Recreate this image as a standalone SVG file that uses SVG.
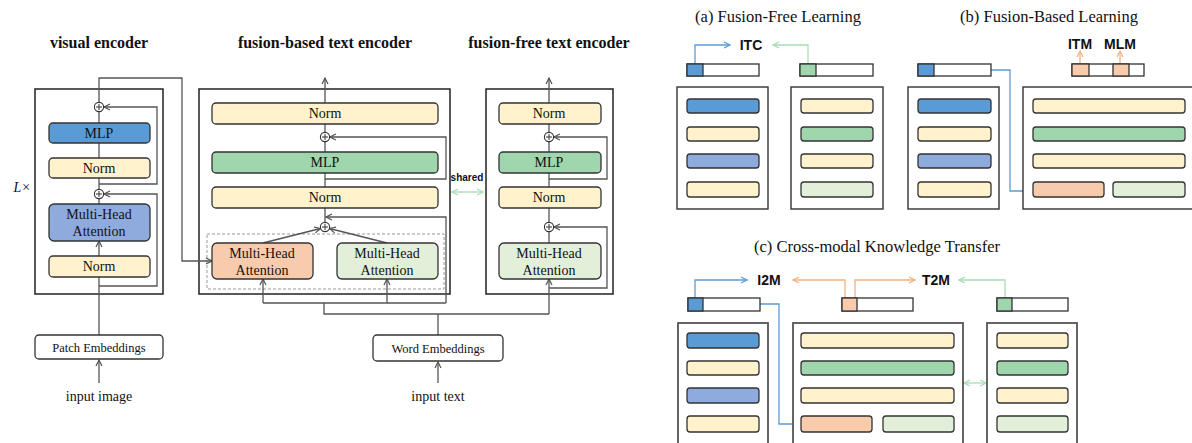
<svg xmlns="http://www.w3.org/2000/svg" width="1192" height="443" viewBox="0 0 1192 443">
<style>
.t{font-family:"Liberation Serif","Times New Roman",serif;fill:#111;text-anchor:middle}
.lb{font-size:14px}
.ti{font-size:16px;font-weight:bold}
.pt{font-size:16.5px}
.s{font-family:"Liberation Sans",Arial,sans-serif;font-weight:bold;fill:#111;text-anchor:middle}
.blk{stroke:#333;stroke-width:1.3}
.enc{fill:#fff;stroke:#222;stroke-width:1.5}
.pan{fill:#fff;stroke:#333;stroke-width:1.4}
.pan2{fill:#fff;stroke:#555;stroke-width:1.8}
.ln{stroke:#555;stroke-width:1.3;fill:none}
.bl{stroke:#5b9bd5;stroke-width:1.3;fill:none}
.gl{stroke:#a8dcb5;stroke-width:1.3;fill:none}
.ol{stroke:#f4b183;stroke-width:1.3;fill:none}
.y{fill:#fff2cc}.b{fill:#5b9bd5}.p{fill:#8faadc}.g{fill:#9fd6ad}.lg{fill:#e2f0d9}.o{fill:#f8cbad}.w{fill:#fff}
.pl{fill:#fff;stroke:#333;stroke-width:1.1}
</style>
<defs>
<marker id="ah" viewBox="0 0 8 8" refX="7" refY="4" markerWidth="8" markerHeight="8" markerUnits="userSpaceOnUse" orient="auto-start-reverse"><path d="M1,1 L7,4 L1,7" fill="none" stroke="#555" stroke-width="1.2"/></marker>
<marker id="ab" viewBox="0 0 8 8" refX="7" refY="4" markerWidth="8" markerHeight="8" markerUnits="userSpaceOnUse" orient="auto-start-reverse"><path d="M1,1 L7,4 L1,7" fill="none" stroke="#5b9bd5" stroke-width="1.2"/></marker>
<marker id="ag" viewBox="0 0 8 8" refX="7" refY="4" markerWidth="8" markerHeight="8" markerUnits="userSpaceOnUse" orient="auto-start-reverse"><path d="M1,1 L7,4 L1,7" fill="none" stroke="#a8dcb5" stroke-width="1.2"/></marker>
<marker id="ao" viewBox="0 0 8 8" refX="7" refY="4" markerWidth="8" markerHeight="8" markerUnits="userSpaceOnUse" orient="auto-start-reverse"><path d="M1,1 L7,4 L1,7" fill="none" stroke="#f4b183" stroke-width="1.2"/></marker>
<g id="plus"><circle r="4.6" class="pl"/><path d="M-3,0H3M0,-3V3" stroke="#333" stroke-width="1"/></g>
</defs>

<!-- Encoder containers -->
<g id="visual-encoder">
<text class="t ti" x="99" y="48">visual encoder</text>
<rect class="enc" x="35" y="89" width="128" height="205"/>
<text class="t lb" x="22" y="192" font-style="italic">L×</text>
</g>
<g id="fusion-based-encoder">
<text class="t ti" x="325" y="48">fusion-based text encoder</text>
<rect class="enc" x="199" y="89" width="251" height="205"/>
<rect x="207" y="234" width="237" height="55" fill="none" stroke="#999" stroke-width="1" stroke-dasharray="3,2"/>
</g>
<g id="fusion-free-encoder">
<text class="t ti" x="549" y="48">fusion-free text encoder</text>
<rect class="enc" x="486" y="89" width="127" height="205"/>
</g>

<!-- Connectors -->
<g id="connectors">
<path class="ln" d="M99,335V277"/>
<path class="ln" d="M99,256V241" marker-end="url(#ah)"/>
<path class="ln" d="M99,204V199"/>
<path class="ln" d="M99,189V178"/>
<path class="ln" d="M99,158V143"/>
<path class="ln" d="M99,123V112"/>
<path class="ln" d="M99,286H157V194H104" marker-end="url(#ah)"/>
<path class="ln" d="M99,184H157V107H104" marker-end="url(#ah)"/>
<path class="ln" d="M99,102V78H182V261H212" marker-end="url(#ah)"/>
<path class="ln" d="M99,383V360" marker-end="url(#ah)"/>
<path class="ln" d="M325,103V78" marker-end="url(#ah)"/>
<path class="ln" d="M325,124V132"/>
<path class="ln" d="M325,142V152"/>
<path class="ln" d="M325,173V187"/>
<path class="ln" d="M325,179H446V137H330" marker-end="url(#ah)"/>
<path class="ln" d="M325,208V222"/>
<path class="ln" d="M446,303V217H326" marker-end="url(#ah)"/>
<path class="ln" d="M263,243L320.5,228.5" marker-end="url(#ah)"/>
<path class="ln" d="M387,243L329.5,228.5" marker-end="url(#ah)"/>
<path class="ln" d="M263,303V279" marker-end="url(#ah)"/>
<path class="ln" d="M387,303V279" marker-end="url(#ah)"/>
<path class="ln" d="M263,303H446"/>
<path class="ln" d="M324,303V314H549"/>
<path class="ln" d="M438,314V335"/>
<path class="ln" d="M438,383V362" marker-end="url(#ah)"/>
<path class="ln" d="M549,314V279" marker-end="url(#ah)"/>
<path class="ln" d="M549,288H607V227H554" marker-end="url(#ah)"/>
<path class="ln" d="M549,243V232"/>
<path class="ln" d="M549,222V208"/>
<path class="ln" d="M549,187V173"/>
<path class="ln" d="M549,179H607V137H554" marker-end="url(#ah)"/>
<path class="ln" d="M549,152V142"/>
<path class="ln" d="M549,132V124"/>
<path class="ln" d="M549,103V78" marker-end="url(#ah)"/>
<path class="gl" d="M452,192H483" stroke-width="1.6" marker-start="url(#ag)" marker-end="url(#ag)"/>
<path class="bl" d="M695,64V45H730" marker-end="url(#ab)"/>
<path class="gl" d="M808,64V45H773" marker-end="url(#ag)"/>
<path class="bl" d="M991,70H1010V191H1030" marker-end="url(#ab)"/>
<path class="ol" d="M1080,64V51" marker-end="url(#ao)"/>
<path class="ol" d="M1120,64V51" marker-end="url(#ao)"/>
<path class="bl" d="M695,298V280H747" marker-end="url(#ab)"/>
<path class="bl" d="M760,304H779V424H800" marker-end="url(#ab)"/>
<path class="ol" d="M845,298V280H793" marker-end="url(#ao)"/>
<path class="ol" d="M855,298V280H915" marker-end="url(#ao)"/>
<path class="gl" d="M1005,298V280H959" marker-end="url(#ag)"/>
<path class="gl" d="M964,383H986" marker-start="url(#ag)" marker-end="url(#ag)"/>
</g>

<!-- Visual encoder nodes -->
<g id="ve-mlp"><rect class="blk b" x="49" y="123" width="101" height="20" rx="4"/><text class="t lb" x="99" y="138">MLP</text></g>
<g id="ve-norm2"><rect class="blk y" x="49" y="158" width="101" height="20" rx="4"/><text class="t lb" x="99" y="173">Norm</text></g>
<g id="ve-mha"><rect class="blk p" x="49" y="204" width="101" height="37" rx="5"/><text class="t lb" x="99" y="219">Multi-Head</text><text class="t lb" x="99" y="236">Attention</text></g>
<g id="ve-norm1"><rect class="blk y" x="49" y="256" width="101" height="21" rx="4"/><text class="t lb" x="99" y="271">Norm</text></g>
<g id="ve-plus1"><use href="#plus" x="99" y="107"/></g>
<g id="ve-plus2"><use href="#plus" x="99" y="194"/></g>
<g id="patch-emb"><rect x="35" y="335" width="128" height="24" rx="4" fill="#fff" stroke="#333" stroke-width="1.3"/><text class="t" font-size="12.5" x="99" y="352">Patch Embeddings</text></g>
<g id="input-image"><text class="t lb" x="99" y="401">input image</text></g>

<!-- Fusion-based nodes -->
<g id="fb-norm-top"><rect class="blk y" x="212" y="103" width="226" height="21" rx="4"/><text class="t lb" x="325" y="118">Norm</text></g>
<g id="fb-plus1"><use href="#plus" x="325" y="137"/></g>
<g id="fb-mlp"><rect class="blk g" x="212" y="152" width="226" height="21" rx="4"/><text class="t lb" x="325" y="167">MLP</text></g>
<g id="fb-norm"><rect class="blk y" x="212" y="187" width="226" height="21" rx="4"/><text class="t lb" x="325" y="202">Norm</text></g>
<g id="fb-plus2"><use href="#plus" x="325" y="227"/></g>
<g id="fb-cross-att"><rect class="blk o" x="212" y="243" width="101" height="36" rx="5"/><text class="t lb" x="262" y="258">Multi-Head</text><text class="t lb" x="262" y="275">Attention</text></g>
<g id="fb-self-att"><rect class="blk lg" x="337" y="243" width="101" height="36" rx="5"/><text class="t lb" x="387" y="258">Multi-Head</text><text class="t lb" x="387" y="275">Attention</text></g>

<!-- Fusion-free nodes -->
<g id="ff-norm-top"><rect class="blk y" x="499" y="103" width="102" height="21" rx="4"/><text class="t lb" x="549" y="118">Norm</text></g>
<g id="ff-plus1"><use href="#plus" x="549" y="137"/></g>
<g id="ff-mlp"><rect class="blk g" x="499" y="152" width="102" height="21" rx="4"/><text class="t lb" x="549" y="167">MLP</text></g>
<g id="ff-norm"><rect class="blk y" x="499" y="187" width="102" height="21" rx="4"/><text class="t lb" x="549" y="202">Norm</text></g>
<g id="ff-plus2"><use href="#plus" x="549" y="227"/></g>
<g id="ff-att"><rect class="blk lg" x="499" y="243" width="102" height="36" rx="5"/><text class="t lb" x="549" y="258">Multi-Head</text><text class="t lb" x="549" y="275">Attention</text></g>
<g id="shared-label"><text class="s" font-size="10" x="467" y="181">shared</text></g>
<g id="word-emb"><rect x="373" y="335" width="130" height="26" rx="4" fill="#fff" stroke="#333" stroke-width="1.3"/><text class="t" font-size="12.5" x="438" y="353">Word Embeddings</text></g>
<g id="input-text"><text class="t lb" x="438" y="401">input text</text></g>

<!-- (a) Fusion-Free Learning -->
<g id="panel-a">
<text class="t pt" x="778" y="22">(a) Fusion-Free Learning</text>
<text class="s" font-size="14" x="751" y="50">ITC</text>
<rect class="blk w" x="687" y="64" width="72" height="12"/><rect class="blk b" x="687" y="64" width="16" height="12"/>
<rect class="blk w" x="800" y="64" width="73" height="12"/><rect class="blk g" x="800" y="64" width="16" height="12"/>
<rect class="pan" x="677" y="87" width="91" height="122"/>
<rect class="blk b" x="687" y="99" width="72" height="14" rx="3"/>
<rect class="blk y" x="687" y="127" width="72" height="14" rx="3"/>
<rect class="blk p" x="687" y="154" width="72" height="14" rx="3"/>
<rect class="blk y" x="687" y="182" width="72" height="15" rx="3"/>
<rect class="pan" x="791" y="87" width="92" height="122"/>
<rect class="blk y" x="801" y="99" width="72" height="14" rx="3"/>
<rect class="blk g" x="801" y="127" width="72" height="14" rx="3"/>
<rect class="blk y" x="801" y="154" width="72" height="14" rx="3"/>
<rect class="blk lg" x="801" y="182" width="72" height="15" rx="3"/>
</g>

<!-- (b) Fusion-Based Learning -->
<g id="panel-b">
<text class="t pt" x="1049" y="22">(b) Fusion-Based Learning</text>
<text class="s" font-size="14" x="1080" y="49">ITM</text>
<text class="s" font-size="14" x="1120" y="49">MLM</text>
<rect class="blk w" x="918" y="64" width="73" height="12"/><rect class="blk b" x="918" y="64" width="16" height="12"/>
<rect class="blk w" x="1072" y="64" width="72" height="12"/><rect class="blk o" x="1072" y="64" width="17" height="12"/><rect class="blk o" x="1113" y="64" width="16" height="12"/>
<rect class="pan" x="908" y="87" width="91" height="122"/>
<rect class="blk b" x="918" y="99" width="73" height="14" rx="3"/>
<rect class="blk y" x="918" y="127" width="73" height="14" rx="3"/>
<rect class="blk p" x="918" y="154" width="73" height="14" rx="3"/>
<rect class="blk y" x="918" y="182" width="73" height="15" rx="3"/>
<rect class="pan" x="1023" y="87" width="175" height="122"/>
<rect class="blk y" x="1033" y="99" width="152" height="14" rx="3"/>
<rect class="blk g" x="1033" y="127" width="152" height="14" rx="3"/>
<rect class="blk y" x="1033" y="154" width="152" height="14" rx="3"/>
<rect class="blk o" x="1033" y="182" width="71" height="15" rx="3"/>
<rect class="blk lg" x="1113" y="182" width="72" height="15" rx="3"/>
</g>

<!-- (c) Cross-modal Knowledge Transfer -->
<g id="panel-c">
<text class="t pt" x="877" y="252">(c) Cross-modal Knowledge Transfer</text>
<text class="s" font-size="14" x="769" y="285">I2M</text>
<text class="s" font-size="14" x="936" y="285">T2M</text>
<rect class="blk w" x="688" y="298" width="72" height="13"/><rect class="blk b" x="688" y="298" width="15" height="13"/>
<rect class="blk w" x="842" y="298" width="71" height="13"/><rect class="blk o" x="842" y="298" width="15" height="13"/>
<rect class="blk w" x="997" y="298" width="71" height="13"/><rect class="blk g" x="997" y="298" width="15" height="13"/>
<rect class="pan2" x="678" y="323" width="90" height="130"/>
<rect class="blk b" x="687" y="333" width="72" height="15" rx="3"/>
<rect class="blk y" x="687" y="361" width="72" height="14" rx="3"/>
<rect class="blk p" x="687" y="388" width="72" height="15" rx="3"/>
<rect class="blk y" x="687" y="416" width="72" height="16" rx="3"/>
<rect class="pan2" x="793" y="323" width="170" height="130"/>
<rect class="blk y" x="801" y="333" width="153" height="15" rx="3"/>
<rect class="blk g" x="801" y="361" width="153" height="14" rx="3"/>
<rect class="blk y" x="801" y="388" width="153" height="15" rx="3"/>
<rect class="blk o" x="801" y="416" width="71" height="16" rx="3"/>
<rect class="blk lg" x="883" y="416" width="71" height="16" rx="3"/>
<rect class="pan2" x="987" y="323" width="90" height="130"/>
<rect class="blk y" x="997" y="333" width="71" height="15" rx="3"/>
<rect class="blk g" x="997" y="361" width="71" height="14" rx="3"/>
<rect class="blk y" x="997" y="388" width="71" height="15" rx="3"/>
<rect class="blk lg" x="997" y="416" width="71" height="16" rx="3"/>
</g>
</svg>
